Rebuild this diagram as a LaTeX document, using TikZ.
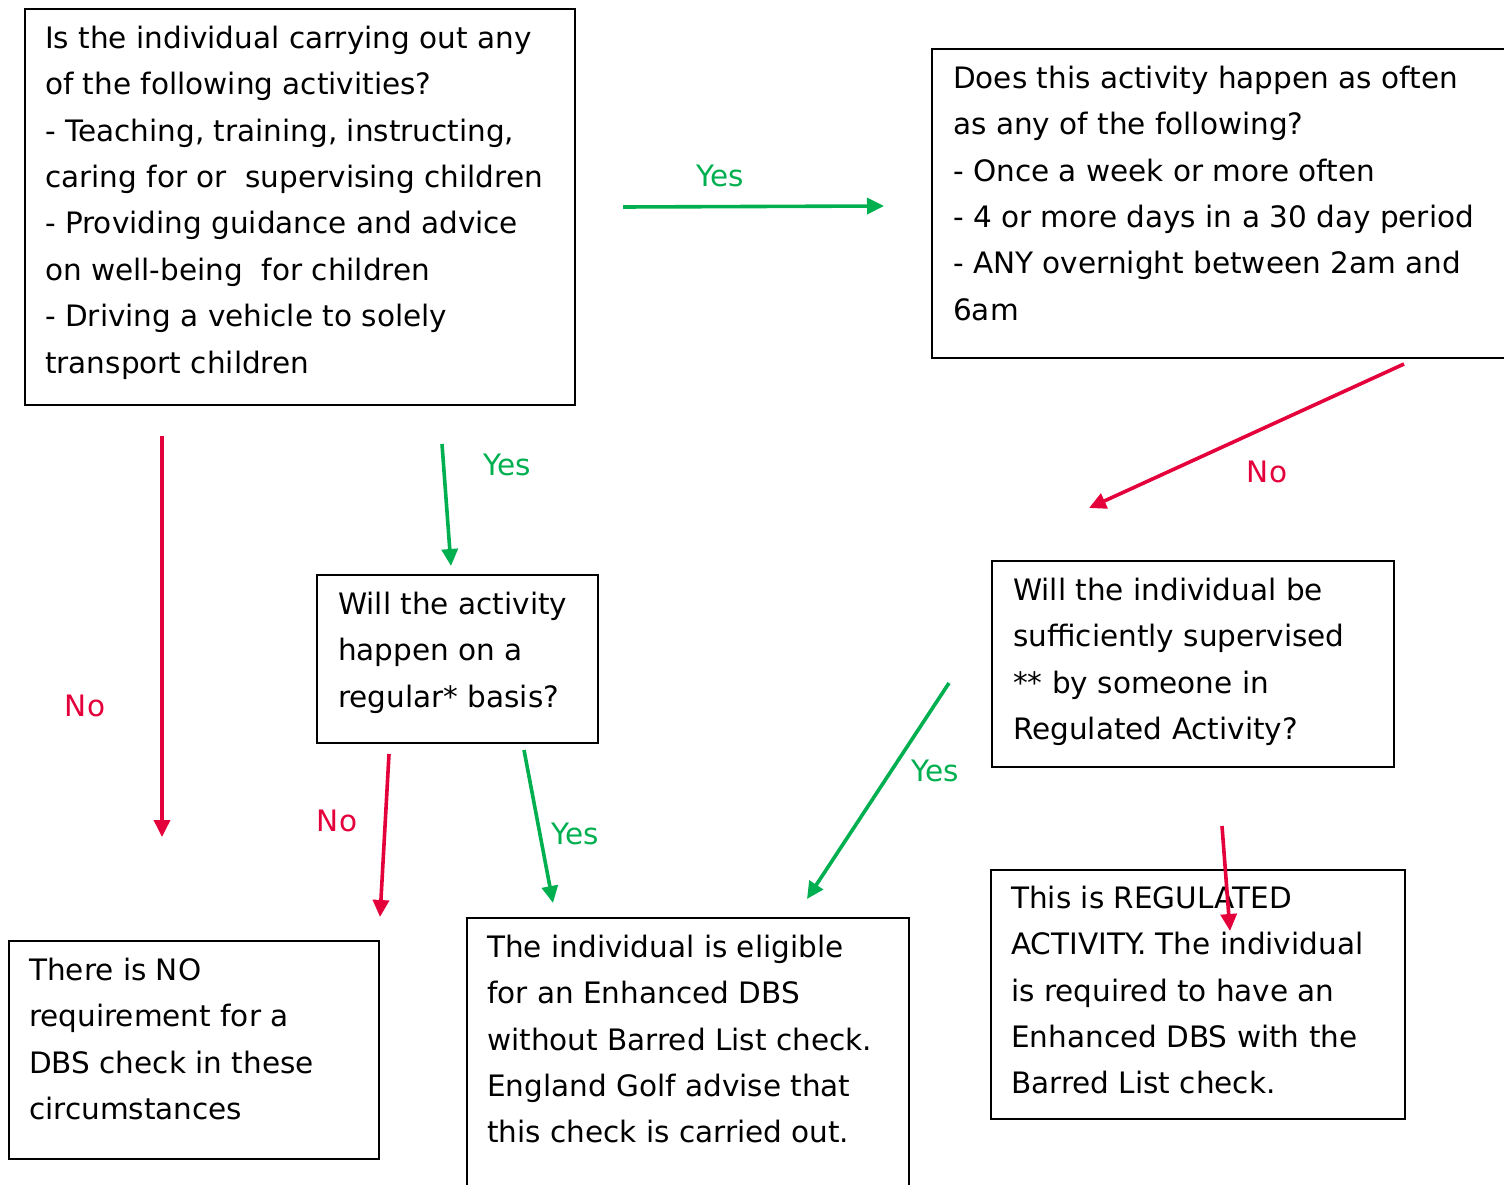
\documentclass[tikz,border=0pt]{standalone}
\usepackage{fontspec}
\setmainfont{DejaVu Sans}
\usetikzlibrary{arrows.meta}
\definecolor{yesgreen}{RGB}{0,176,80}
\definecolor{nored}{RGB}{228,0,58}
\tikzset{
  boxframe/.style={draw=black, line width=2.2pt, inner sep=0pt, anchor=north west},
  boxtext/.style={anchor=north west, align=left, inner sep=0pt,
    font=\fontsize{29.5}{46.4}\selectfont},
  lbl/.style={inner sep=0pt, anchor=base, font=\fontsize{29.5}{46.4}\selectfont},
  yesarrow/.style={draw=yesgreen, line width=3.6pt, -{Triangle[length=17pt,width=16pt]}},
  noarrow/.style={draw=nored, line width=3.6pt, -{Triangle[length=17pt,width=16pt]}},
}
\begin{document}
\begin{tikzpicture}[x=1pt,y=-1pt]
\useasboundingbox (0,0) rectangle (1504,1185);
\clip (0,0) rectangle (1504,1185);
% boxes
\node[boxframe, minimum width=550pt, minimum height=396pt] (A) at (24,8) {};
\node[boxframe, minimum width=600pt, minimum height=309pt] (B) at (931,48) {};
\node[boxframe, minimum width=281pt, minimum height=168pt] (C) at (316,574) {};
\node[boxframe, minimum width=402pt, minimum height=206pt] (D) at (991,560) {};
\node[boxframe, minimum width=370pt, minimum height=218pt] (E) at (8,940) {};
\node[boxframe, minimum width=442pt, minimum height=300pt] (F) at (466,917) {};
\node[boxframe, minimum width=414pt, minimum height=249pt] (G) at (990,869) {};
% texts
\node[boxtext] (tA) at (45,25.6) {Is the individual carrying out any\\of the following activities?\\- Teaching, training, instructing,\\caring for or\ \ supervising children\\- Providing guidance and advice\\on well-being\ \ for children\\- Driving a vehicle to solely\\transport children};
\node[boxtext] (tB) at (953,65.6) {Does this activity happen as often\\as any of the following?\\- Once a week or more often\\- 4 or more days in a 30 day period\\- ANY overnight between 2am and\\6am};
\node[boxtext] (tC) at (338,591.6) {Will the activity\\happen on a\\regular* basis?};
\node[boxtext] (tD) at (1013,577.6) {Will the individual be\\sufficiently supervised\\** by someone in\\Regulated Activity?};
\node[boxtext] (tE) at (29,957.6) {There is NO\\requirement for a\\DBS check in these\\circumstances};
\node[boxtext] (tF) at (487,934.6) {The individual is eligible\\for an Enhanced DBS\\without Barred List check.\\England Golf advise that\\this check is carried out.};
\node[boxtext] (tG) at (1011,885.6) {This is REGULATED\\ACTIVITY. The individual\\is required to have an\\Enhanced DBS with the\\Barred List check.};
% arrow end points
\coordinate (a1s) at (623,207); \coordinate (a1e) at (884,206);
\coordinate (a2s) at (1404,364); \coordinate (a2e) at (1089,508);
\coordinate (a3s) at (162,436); \coordinate (a3e) at (162,837);
\coordinate (a4s) at (442,444); \coordinate (a4e) at (451,566);
\coordinate (a5s) at (389,754); \coordinate (a5e) at (380,917);
\coordinate (a6s) at (524,750); \coordinate (a6e) at (553,903);
\coordinate (a7s) at (949,683); \coordinate (a7e) at (807,899);
\coordinate (a8s) at (1222,826); \coordinate (a8e) at (1230,931);
% arrows
\draw[yesarrow] (a1s) -- (a1e);
\draw[noarrow] (a2s) -- (a2e);
\draw[noarrow] (a3s) -- (a3e);
\draw[yesarrow] (a4s) -- (a4e);
\draw[noarrow] (a5s) -- (a5e);
\draw[yesarrow] (a6s) -- (a6e);
\draw[yesarrow] (a7s) -- (a7e);
\draw[noarrow] (a8s) -- (a8e);
% labels
\node[lbl, text=yesgreen] (l1) at (720,186) {Yes};
\node[lbl, text=nored] (l2) at (1267,482) {No};
\node[lbl, text=nored] (l3) at (85,716) {No};
\node[lbl, text=yesgreen] (l4) at (507,475) {Yes};
\node[lbl, text=nored] (l5) at (337,831) {No};
\node[lbl, text=yesgreen] (l6) at (575,844) {Yes};
\node[lbl, text=yesgreen] (l7) at (935,781) {Yes};
\end{tikzpicture}
\end{document}
